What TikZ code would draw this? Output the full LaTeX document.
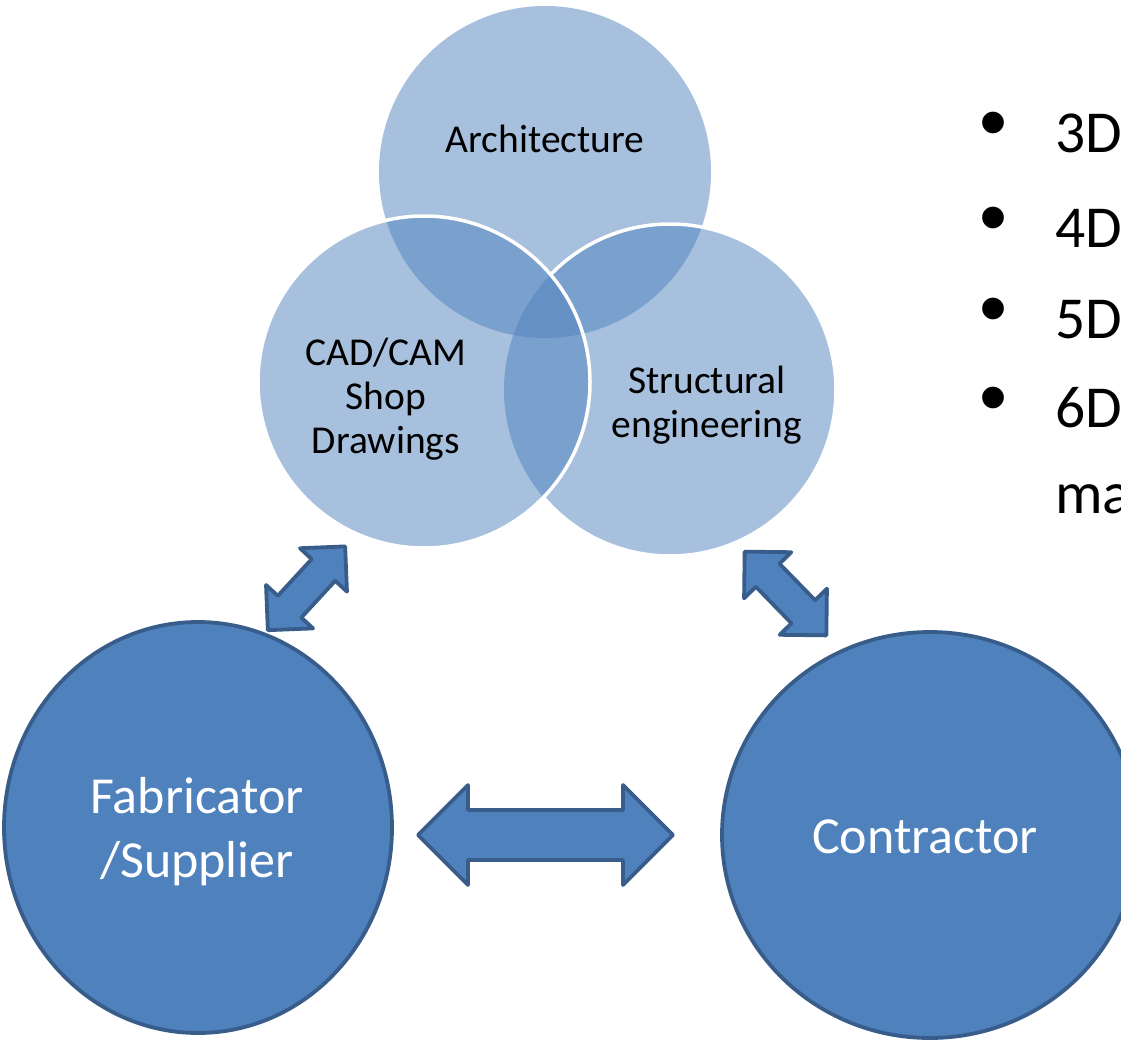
\documentclass[tikz,border=0pt]{standalone}
\usepackage{fontspec}
\setmainfont{Carlito}
\newfontfamily\bulletfont{Liberation Sans}
\usetikzlibrary{shapes.geometric}
\definecolor{accent}{HTML}{4F81BD}
\definecolor{accentdark}{HTML}{385D8A}

\tikzset{
  vennset/.style={circle, draw=none, fill=accent, fill opacity=0.5,
    minimum size=332pt, inner sep=0pt, outer sep=0pt},
  vennrim/.style={draw=white, line width=3.5pt},
  % multi-line labels are anchored on the baseline of their last line
  vennlabel/.style={text=black, font=\fontsize{39.5}{44}\selectfont,
    align=center, inner sep=0pt, anchor=base},
  party/.style={ellipse, fill=accent, draw=accentdark, line width=3.8pt,
    inner sep=0pt, outer sep=0pt},
  partylabel/.style={text=white, font=\fontsize{52}{64}\selectfont,
    align=center, inner sep=0pt, anchor=base},
  blockarrow/.style={fill=accent, draw=accentdark, line width=3.8pt,
    line join=round},
  pointmark/.style={font=\bulletfont\fontsize{80}{80}\selectfont,
    inner sep=0pt, anchor=center},
  pointtext/.style={font=\fontsize{59.5}{66}\selectfont,
    inner sep=0pt, anchor=base west},
  % double-headed block arrow centred on the pic origin:
  % #1 total length, #2 head length (= head half width), #3 shaft half width
  pics/dblarrow/.style n args={3}{code={
    \pgfmathsetmacro\arrhalf{#1/2}
    \pgfmathsetmacro\arrbase{#1/2-#2}
    \draw[blockarrow] (-\arrhalf,0) -- (-\arrbase,#2) -- (-\arrbase,#3)
      -- (\arrbase,#3) -- (\arrbase,#2) -- (\arrhalf,0) -- (\arrbase,-#2)
      -- (\arrbase,-#3) -- (-\arrbase,-#3) -- (-\arrbase,-#2) -- cycle;
  }}
}

\begin{document}
\begin{tikzpicture}[x=1pt, y=-1pt]
  \useasboundingbox (0,0) rectangle (1121,1041);
  \clip (0,0) rectangle (1121,1041);

  % three overlapping discipline sets
  \node[vennset] (arch)  at (545,172) {};
  \node[vennset] (struc) at (670,390) {};
  \node[vennset] (cad)   at (424,382) {};

  % white rims where the sets overlap
  \begin{scope}[even odd rule]
    \clip (0,0) rectangle (1121,1041)
      (cad.center) circle[radius=166pt];
    \draw[vennrim] (struc.center) circle[radius=166pt];
  \end{scope}
  \draw[vennrim] (cad.center) circle[radius=166pt];

  \node[vennlabel] (archtext)  at (545,152) {Architecture};
  \node[vennlabel] (cadtext)   at (386,453) {CAD/CAM\\Shop\\Drawings};
  \node[vennlabel] (structext) at (707,437) {Structural\\engineering};

  % project parties
  \node[party, minimum width=388pt, minimum height=411pt] (fab) at (198,827.5) {};
  \node[party, minimum width=416pt, minimum height=406pt] (con) at (930,835) {};
  \node[partylabel] (fabtext) at (197,877) {Fabricator\\/Supplier};
  \node[partylabel] (context) at (925,853) {Contractor};

  % exchanges between the parties and the design team
  \pic (hlink) at (545.5,835) {dblarrow={255}{50}{25}};
  \pic[rotate=47.3] (llink) at (306.5,588.3) {dblarrow={114}{32}{16}};
  \pic[rotate=-45.7] (rlink) at (785.5,593.5) {dblarrow={117}{33}{16.5}};

  % dimension list
  \node[pointmark] (m1) at (993,131) {•};
  \node[pointmark] (m2) at (993,226) {•};
  \node[pointmark] (m3) at (993,317) {•};
  \node[pointmark] (m4) at (993,406) {•};
  \node[pointtext] (d3) at (1055,152) {3D};
  \node[pointtext] (d4) at (1055,247) {4D};
  \node[pointtext] (d5) at (1055,338) {5D};
  \node[pointtext] (d6) at (1055,427) {6D};
  \node[pointtext] (d6b) at (1055,513) {ma};
\end{tikzpicture}
\end{document}
